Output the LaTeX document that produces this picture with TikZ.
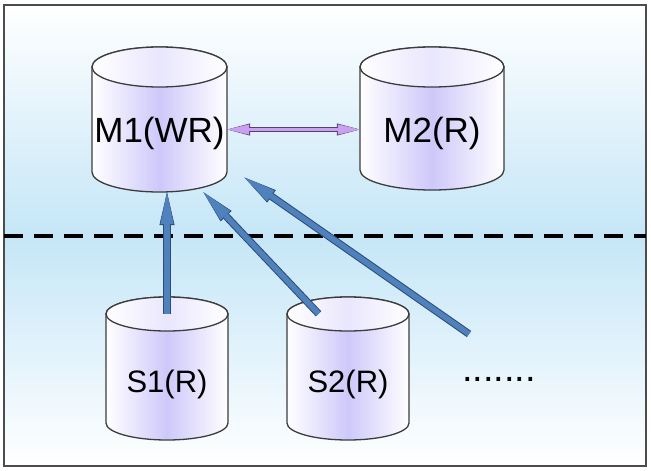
\documentclass[tikz,border=0pt]{standalone}
\usepackage{fontspec}
\setmainfont{Liberation Sans}
\usetikzlibrary{arrows.meta}
\definecolor{bgblue}{RGB}{197,230,247}
\definecolor{lav}{RGB}{206,200,250}
\definecolor{drumedge}{RGB}{60,60,60}
\definecolor{arrowblue}{RGB}{79,129,189}
\definecolor{arrowedge}{RGB}{45,75,115}
\definecolor{syncfill}{RGB}{204,160,240}
\definecolor{syncedge}{RGB}{85,65,110}
\tikzset{frame/.style = {draw=black!70, line width=1.8pt}}
\tikzset{cut/.style = {line width=4pt, dash pattern=on 19pt off 11pt}}
\tikzset{drumbody/.style = {draw=drumedge, line width=1.3pt,
                            left color=white, right color=white, middle color=lav}}
\tikzset{drumtop/.style = {draw=drumedge, line width=1.3pt,
                           left color=white, right color=white, middle color=lav!45}}
\tikzset{drumlabel/.style = {inner sep=0, text depth=0pt}}
\tikzset{link/.style = {arrowblue, line width=5.5pt,
                        -{Triangle[length=32pt,width=13pt,line width=0.6pt]},
                        preaction={draw=arrowedge, line width=7.5pt,
                                   -{Triangle[length=33pt,width=15pt,line width=0.6pt]}}}}
\tikzset{sync/.style = {syncfill, line width=3.5pt,
                        {Triangle[length=22pt,width=10pt,line width=0.6pt]}-{Triangle[length=22pt,width=10pt,line width=0.6pt]},
                        preaction={draw=syncedge, line width=5pt,
                                   {Triangle[length=23pt,width=12pt,line width=0.6pt]}-{Triangle[length=23pt,width=12pt,line width=0.6pt]}}}}

\begin{document}
\begin{tikzpicture}[x=1pt, y=-1pt]
    \useasboundingbox (0,0) rectangle (651,471);
    % background
    \shade[top color=white, bottom color=bgblue] (4,5) rectangle (646,236);
    \shade[top color=bgblue, bottom color=white] (4,236) rectangle (646,466);
    \draw[frame] (4,5) rectangle (646,466);
    \draw[cut] (4,236) -- (646,236);
    % databases
    \foreach \nm/\cx/\ytop/\ybot/\rx/\ry/\fs/\th/\txt in {m1/159.5/47/192/67.5/20/35/25.5/M1(WR),
        m2/432/47/190/72/20/35/27/M2(R),
        s1/167/297/440/61/17/31/31.6/S1(R),
        s2/348/297/440/61/17/31/31.6/S2(R)} {
        \path[drumbody] (\cx-\rx,\ytop+\ry) -- (\cx-\rx,\ybot-\ry)
            arc[start angle=180, end angle=360, x radius=\rx pt, y radius=\ry pt]
            -- (\cx+\rx,\ytop+\ry)
            arc[start angle=0, end angle=180, x radius=\rx pt, y radius=\ry pt] -- cycle;
        \path[drumtop] (\cx,\ytop+\ry) ellipse[x radius=\rx pt, y radius=\ry pt];
        \node[drumlabel, font=\fontsize{\fs}{\fs}\selectfont, text height={\th pt},
              minimum width={2*\rx*1pt}, minimum height={(\ybot-\ytop-\ry)*1pt}]
              (\nm) at (\cx,{(\ytop+\ry+\ybot)/2}) {\txt};
    }
    \node[font=\fontsize{38}{38}\selectfont] (etc) at (499,379) {.......};
    \coordinate (more) at (469,334);
    % replication
    \draw[sync] (m1.east) -- (m1.east -| m2.west);
    \draw[link] (s1.north) -- (s1.north |- m1.south);
    \draw[link] (s2.115) -- (m1.-55);
    \draw[link, shorten >=21pt] (more) -- (m1.-28);
\end{tikzpicture}
\end{document}
